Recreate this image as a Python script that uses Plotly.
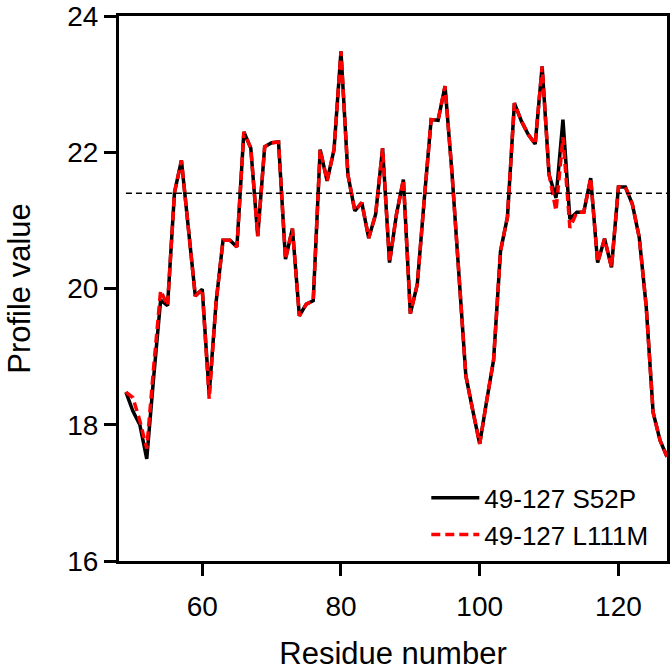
import plotly.graph_objects as go

residues = list(range(49, 128))

s52p = [18.48, 18.20, 18.00, 17.50, 18.70, 19.83, 19.75, 21.41, 21.88, 20.85,
        19.89, 19.99, 18.45, 19.80, 20.71, 20.71, 20.61, 22.30, 22.06, 20.77,
        22.08, 22.14, 22.15, 20.43, 20.88, 19.60, 19.77, 19.82, 22.04, 21.58,
        22.04, 23.48, 21.67, 21.14, 21.26, 20.74, 21.09, 22.06, 20.38, 21.09,
        21.60, 19.63, 20.06, 21.30, 22.48, 22.47, 22.97, 21.70, 20.15, 18.72,
        18.21, 17.72, 18.35, 18.95, 20.55, 21.05, 22.72, 22.46, 22.26, 22.12,
        23.26, 21.67, 21.33, 22.48, 21.02, 21.12, 21.12, 21.62, 20.38, 20.73,
        20.31, 21.49, 21.49, 21.24, 20.75, 19.74, 18.18, 17.77, 17.53]

l111m = [18.48, 18.40, 18.06, 17.65, 18.85, 19.97, 19.75, 21.41, 21.88, 20.85,
         19.89, 19.99, 18.38, 19.80, 20.71, 20.71, 20.61, 22.30, 22.06, 20.77,
         22.08, 22.14, 22.15, 20.43, 20.88, 19.60, 19.77, 19.82, 22.04, 21.58,
         22.04, 23.48, 21.67, 21.14, 21.26, 20.74, 21.09, 22.06, 20.38, 21.09,
         21.60, 19.63, 20.06, 21.30, 22.48, 22.47, 22.97, 21.70, 20.15, 18.72,
         18.21, 17.72, 18.35, 18.95, 20.55, 21.05, 22.72, 22.46, 22.26, 22.12,
         23.26, 21.67, 21.14, 22.22, 20.89, 21.12, 21.12, 21.62, 20.38, 20.73,
         20.31, 21.49, 21.49, 21.24, 20.75, 19.74, 18.18, 17.77, 17.53]

threshold = 21.4
x_ticks = [60, 80, 100, 120]
y_ticks = [16, 18, 20, 22, 24]

FONT = "Arial, Liberation Sans, sans-serif"

fig = go.Figure()
fig.add_trace(go.Scatter(x=residues, y=s52p, mode="lines", name="49-127 S52P",
                         line=dict(color="black", width=3.5)))
fig.add_trace(go.Scatter(x=residues, y=l111m, mode="lines", name="49-127 L111M",
                         line=dict(color="#ff0000", width=3.5, dash="9px,5px")))

fig.add_shape(type="line", x0=residues[0], x1=residues[-1], y0=threshold, y1=threshold,
              xref="x", yref="y", line=dict(color="black", width=1.5, dash="6px,4px"))

axis_common = dict(showline=True, linecolor="black", linewidth=3, mirror=True,
                   ticks="outside", ticklen=12, tickwidth=2.5, tickcolor="black",
                   showgrid=False, zeroline=False, automargin=False,
                   ticklabeloverflow="allow",
                   tickfont=dict(family=FONT, size=28, color="black"))

fig.update_xaxes(range=[48, 127], tickvals=x_ticks, ticklabelstandoff=6,
                 title=dict(text="Residue number", font=dict(family=FONT, size=31, color="black"),
                            standoff=22),
                 **axis_common)
fig.update_yaxes(range=[16, 24], tickvals=y_ticks,
                 title=dict(text="Profile value", font=dict(family=FONT, size=31, color="black"),
                            standoff=28),
                 **axis_common)

fig.update_layout(
    width=671, height=672,
    margin=dict(l=119, r=4, t=16, b=111),
    plot_bgcolor="white", paper_bgcolor="white",
    font=dict(family=FONT, color="black"),
    legend=dict(x=0.975, xanchor="right", y=0.005, yanchor="bottom",
                bgcolor="rgba(0,0,0,0)", font=dict(family=FONT, size=26, color="black"),
                itemwidth=48, tracegroupgap=0),
)

fig.write_html("out.html", config={"displayModeBar": False},
               post_script="document.body.style.margin='0';")
